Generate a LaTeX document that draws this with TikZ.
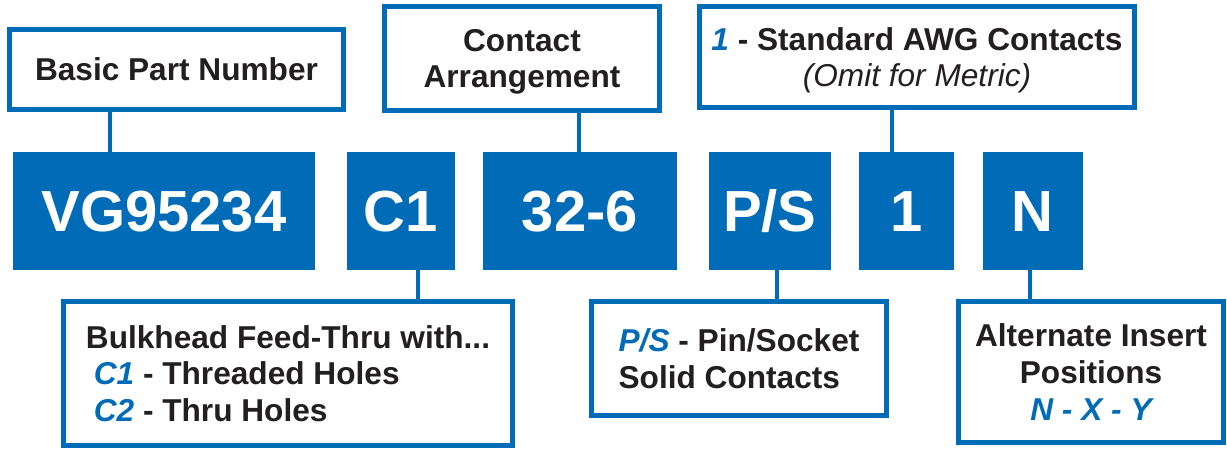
\documentclass[tikz,border=0pt]{standalone}
\usepackage{fontspec}
\setmainfont{Liberation Sans}
\usetikzlibrary{positioning}
\definecolor{partblue}{RGB}{0,107,182}
\definecolor{partink}{RGB}{35,31,32}
\newcommand{\opt}[1]{{\color{partblue}\itshape #1}}

\begin{document}
\begin{tikzpicture}[x=0.02cm,y=-0.02cm,
        code/.style={fill=partblue,text=white,outer sep=0pt,minimum height=2.36cm,
                     font=\fontsize{33}{33}\selectfont\bfseries,text height=23.6pt,text depth=0pt},
        lbl/.style={draw=partblue,line width=0.1cm,fill=white,inner sep=0pt,text depth=0pt,
                    text=partink,font=\fontsize{18}{21}\selectfont\bfseries},
        link/.style={draw=partblue,line width=0.09cm}]

  \useasboundingbox (0,0) rectangle (1227,449);

  % part number fields
  \node[code,minimum width=6.04cm] (code_vg) at (164,211) {VG95234};
  \node[code,minimum width=2.16cm] (code_c) [right=0.64cm of code_vg] {C1};
  \node[code,minimum width=3.88cm] (code_arr) [right=0.56cm of code_c] {32-6};
  \node[code,minimum width=2.44cm] (code_ps) [right=0.64cm of code_arr] {P/S};
  \node[code,minimum width=1.9cm] (code_awg) [right=0.56cm of code_ps] {1};
  \node[code,minimum width=2cm] (code_alt) [right=0.58cm of code_awg] {N};

  % explanations
  \node[lbl,minimum width=6.68cm,minimum height=1.6cm] (lbl_basic) at (176.5,69.5)
        {Basic Part Number};
  \node[lbl,minimum width=5.5cm,minimum height=2.08cm,align=center] (lbl_arr) at (522,58.5)
        {Contact\\Arrangement};
  \node[lbl,minimum width=8.7cm,minimum height=2.02cm,align=center] (lbl_awg) at (917,57)
        {\opt{1} - Standard AWG Contacts\\{\mdseries\itshape (Omit for Metric)}};
  \node[lbl,minimum width=8.98cm,minimum height=2.88cm,align=left] (lbl_shell) at (288,373.5)
        {Bulkhead Feed-Thru with...\\\hspace{0.25em}\opt{C1} - Threaded Holes\\\hspace{0.25em}\opt{C2} - Thru Holes};
  \node[lbl,minimum width=5.9cm,minimum height=2.28cm,align=left] (lbl_contact) at (739,358.5)
        {\opt{P/S} - Pin/Socket\\Solid Contacts};
  \node[lbl,minimum width=5.3cm,minimum height=2.82cm,align=center] (lbl_alt) at (1091,372)
        {Alternate Insert\\Positions\\\opt{N - X - Y}};

  \path[link] ([xshift=-1.33cm]lbl_basic.south) edge ([xshift=-1.33cm]lbl_basic.south |- code_vg.north)
              ([xshift=1.14cm]lbl_arr.south) edge ([xshift=1.14cm]lbl_arr.south |- code_arr.north)
              ([xshift=-0.5cm]lbl_awg.south) edge ([xshift=-0.5cm]lbl_awg.south |- code_awg.north)
              ([xshift=2.6cm]lbl_shell.north) edge ([xshift=2.6cm]lbl_shell.north |- code_c.south)
              ([xshift=0.76cm]lbl_contact.north) edge ([xshift=0.76cm]lbl_contact.north |- code_ps.south)
              ([xshift=-1.22cm]lbl_alt.north) edge ([xshift=-1.22cm]lbl_alt.north |- code_alt.south);

\end{tikzpicture}
\end{document}
